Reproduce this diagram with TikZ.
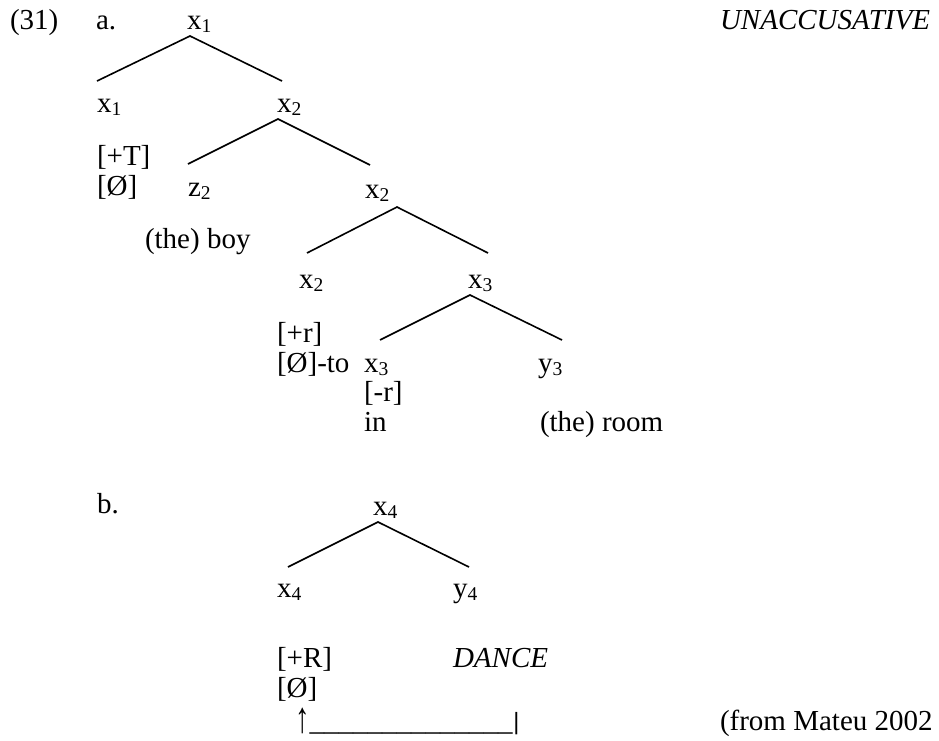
\documentclass[tikz,border=0pt]{standalone}
\usepackage{fontspec}
\usepackage{graphicx}
\setmainfont{Liberation Serif}
\newcommand\sbsc[1]{\raisebox{-3pt}{\fontsize{19.5}{20}\selectfont #1}}
\newcommand\uparr{\raisebox{-2pt}{\scalebox{1}[1.5]{↑}}}
\newcommand\closebar{\raisebox{1pt}{\scalebox{1.3}[0.85]{|}}}
\begin{document}
\begin{tikzpicture}[x=1pt,y=-1pt,
  lbl/.style={anchor=base west,inner sep=0pt,outer sep=0pt,font=\fontsize{29}{30}\selectfont},
  branch/.style={line width=1.6pt,black}]
\fill[white] (0,0) rectangle (939,740);
\useasboundingbox (0,0) rectangle (939,740);
% --- (a) ---
\node[lbl] (n31) at (10,29) {(31)};
\node[lbl] (la) at (96,29) {a.};
\node[lbl] (r1) at (187,29) {x\sbsc{1}};
\node[lbl] (unacc) at (720,29) {\itshape UNACCUSATIVE};
\node[lbl] (a1) at (97,112) {x\sbsc{1}};
\node[lbl] (b2) at (277,112) {x\sbsc{2}};
\node[lbl] (fT) at (97,165) {[+T]};
\node[lbl] (fO) at (97,195) {[Ø]};
\node[lbl] (z2) at (188,196) {z\sbsc{2}};
\node[lbl] (c2) at (365,198) {x\sbsc{2}};
\node[lbl] (boy) at (145,248) {(the) boy};
\node[lbl] (d2) at (299,288) {x\sbsc{2}};
\node[lbl] (d3) at (468,288) {x\sbsc{3}};
\node[lbl] (fr) at (277,342) {[+r]};
\node[lbl] (fto) at (277,372) {[Ø]-to};
\node[lbl] (e3) at (364,372) {x\sbsc{3}};
\node[lbl] (y3) at (538,372) {y\sbsc{3}};
\node[lbl] (fmr) at (364,401) {[-r]};
\node[lbl] (in) at (364,431) {in};
\node[lbl] (room) at (540,431) {(the) room};
% --- (b) ---
\node[lbl] (lb) at (97,513) {b.};
\node[lbl] (r4) at (373,515) {x\sbsc{4}};
\node[lbl] (f4) at (277,597) {x\sbsc{4}};
\node[lbl] (y4) at (453,597) {y\sbsc{4}};
\node[lbl] (fR) at (277,667) {[+R]};
\node[lbl] (dance) at (453,667) {\itshape DANCE};
\node[lbl] (fO4) at (277,697) {[Ø]};
\node[lbl] (arr) at (295,730) {\uparr\_\_\_\_\_\_\_\_\_\_\_\_\_\_\closebar};
\node[lbl] (mateu) at (720,730) {(from Mateu 2002};
% branch points
\coordinate (t1) at (190,36);  \coordinate (t1l) at (97,81);  \coordinate (t1r) at (282,81);
\coordinate (t2) at (278,119); \coordinate (t2l) at (188,164); \coordinate (t2r) at (370,165);
\coordinate (t3) at (397,207); \coordinate (t3l) at (307,253); \coordinate (t3r) at (488,253);
\coordinate (t4) at (470,295); \coordinate (t4l) at (380,340); \coordinate (t4r) at (562,340);
\coordinate (t5) at (378,522); \coordinate (t5l) at (288,567); \coordinate (t5r) at (469,567);
\draw[branch] (t1l) -- (t1) -- (t1r);
\draw[branch] (t2l) -- (t2) -- (t2r);
\draw[branch] (t3l) -- (t3) -- (t3r);
\draw[branch] (t4l) -- (t4) -- (t4r);
\draw[branch] (t5l) -- (t5) -- (t5r);
\end{tikzpicture}
\end{document}
